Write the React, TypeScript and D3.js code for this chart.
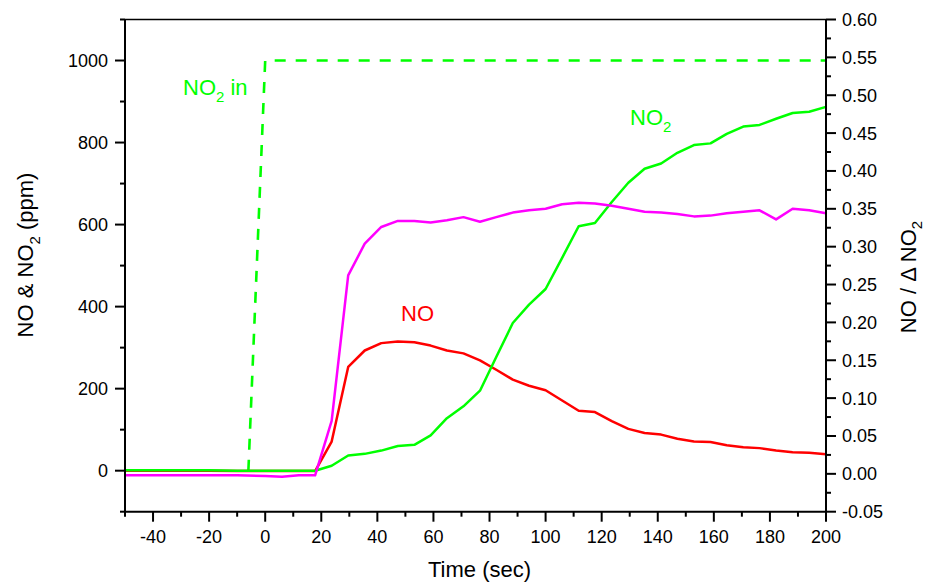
import React from "react";
import * as d3 from "d3";

// Sample times (s) shared by all measured series
const time = [
  -50, -40, -30, -20, -10, 0, 6, 12, 17.8, 23.7, 29.6, 35.5, 41.4, 47.3, 53.2, 59.0,
  64.8, 70.7, 76.6, 82.4, 88.3, 94.1, 100.0, 105.9, 111.8, 117.6, 123.6, 129.5, 135.3,
  141.2, 147.0, 152.9, 158.8, 164.6, 170.5, 176.3, 182.2, 188.1, 194.0, 200.0,
];

// NO2 outlet concentration (ppm)
const no2 = [
  1, 1, 1, 1, 0, 0, 0, 0, 0, 12, 37, 41, 49, 60, 63, 86,
  128, 157, 195, 277, 360, 405, 443, 519, 596, 604, 655, 702, 736,
  749, 775, 794, 798, 821, 839, 843, 858, 872, 875, 887,
];

// NO concentration (ppm)
const no = [
  0, 0, 0, 0, -1, -1, -1, -1, -1, 71, 253, 293, 311, 315, 313, 305,
  293, 286, 269, 246, 222, 207, 196, 171, 146, 143, 121, 102, 92,
  88, 78, 71, 70, 62, 57, 55, 49, 45, 44, 40,
];

// Ratio NO / ΔNO2 (right axis)
const ratio = [
  -0.002, -0.002, -0.002, -0.002, -0.002, -0.003, -0.004, -0.002, -0.002, 0.07, 0.262, 0.304,
  0.326, 0.334, 0.334, 0.332, 0.335, 0.339, 0.333, 0.339, 0.345, 0.348, 0.35, 0.356, 0.358,
  0.357, 0.354, 0.35, 0.346, 0.345, 0.343, 0.34, 0.341, 0.344, 0.346, 0.348, 0.336, 0.35,
  0.348, 0.344,
];

// NO2 feed step
const feedTime = [-6, 0, 200];
const feedNo2 = [0, 1000, 1000];

// Axis ticks
const xMajor = [-40, -20, 0, 20, 40, 60, 80, 100, 120, 140, 160, 180, 200];
const xMinor = [-50, -30, -10, 10, 30, 50, 70, 90, 110, 130, 150, 170, 190];
const yLeftMajor = [0, 200, 400, 600, 800, 1000];
const yLeftMinor = [-100, 100, 300, 500, 700, 900, 1100];
const yRightMajor = [-0.05, 0, 0.05, 0.1, 0.15, 0.2, 0.25, 0.3, 0.35, 0.4, 0.45, 0.5, 0.55, 0.6];
const yRightMinor = [-0.025, 0.025, 0.075, 0.125, 0.175, 0.225, 0.275, 0.325, 0.375, 0.425, 0.475, 0.525, 0.575];

const W = 925;
const H = 583;
const L = 125;
const R = 826;
const T = 19.5;
const B = 511.7;

const GREEN = "#00ff00";
const RED = "#ff0000";
const MAGENTA = "#ff00ff";
const FONT = "'Liberation Sans', Arial, Helvetica, sans-serif";

const fmtInt = (v: number) => (v < 0 ? "-" : "") + Math.abs(v).toString();
const fmt2 = (v: number) => (v < -1e-9 ? "-" : "") + Math.abs(v).toFixed(2);

export default function App() {
  const x = d3.scaleLinear().domain([-50, 200]).range([L, R]);
  const yL = d3.scaleLinear().domain([-100, 1100]).range([B, T]);
  const yR = d3.scaleLinear().domain([-0.05, 0.6]).range([B, T]);

  const lineL = (vals: number[], ts: number[]) =>
    d3
      .line<number>()
      .x((_, i) => x(ts[i]))
      .y((d) => yL(d))(vals) as string;
  const lineR = d3
    .line<number>()
    .x((_, i) => x(time[i]))
    .y((d) => yR(d))(ratio) as string;

  const tickStroke = { stroke: "#000", strokeWidth: 2 };

  return (
    <svg
      width={W}
      height={H}
      style={{ position: "absolute", left: 0, top: 0, background: "#fff" }}
      fontFamily={FONT}
    >
      <rect x={0} y={0} width={W} height={H} fill="#fff" />

      {/* series */}
      <path
        d={lineL(feedNo2, feedTime)}
        fill="none"
        stroke={GREEN}
        strokeWidth={2.6}
        strokeDasharray="11,10"
      />
      <path d={lineL(no, time)} fill="none" stroke={RED} strokeWidth={2.5} strokeLinejoin="round" />
      <path d={lineL(no2, time)} fill="none" stroke={GREEN} strokeWidth={2.5} strokeLinejoin="round" />
      <path d={lineR} fill="none" stroke={MAGENTA} strokeWidth={2.5} strokeLinejoin="round" />

      {/* frame */}
      <line x1={L} x2={R} y1={T} y2={T} stroke="#000" strokeWidth={1.6} />
      <line x1={L} x2={L} y1={T} y2={B} {...tickStroke} />
      <line x1={R} x2={R} y1={T} y2={B} {...tickStroke} />
      <line x1={L - 1} x2={R + 1} y1={B} y2={B} {...tickStroke} />

      {/* bottom axis */}
      {xMajor.map((t) => (
        <g key={"xM" + t}>
          <line x1={x(t)} x2={x(t)} y1={B} y2={B + 10} {...tickStroke} />
          <text x={x(t)} y={543} fontSize={18} textAnchor="middle" fill="#000">
            {fmtInt(t)}
          </text>
        </g>
      ))}
      {xMinor.map((t) => (
        <line key={"xm" + t} x1={x(t)} x2={x(t)} y1={B} y2={B + 5} {...tickStroke} />
      ))}

      {/* left axis */}
      {yLeftMajor.map((v) => (
        <g key={"lM" + v}>
          <line x1={L - 10} x2={L} y1={yL(v)} y2={yL(v)} {...tickStroke} />
          <text x={108} y={yL(v) + 6.5} fontSize={18} textAnchor="end" fill="#000">
            {fmtInt(v)}
          </text>
        </g>
      ))}
      {yLeftMinor.map((v) => (
        <line key={"lm" + v} x1={L - 5} x2={L} y1={yL(v)} y2={yL(v)} {...tickStroke} />
      ))}

      {/* right axis */}
      {yRightMajor.map((v) => (
        <g key={"rM" + v}>
          <line x1={R} x2={R + 10} y1={yR(v)} y2={yR(v)} {...tickStroke} />
          <text x={842} y={yR(v) + 6.5} fontSize={18} textAnchor="start" fill="#000">
            {fmt2(v)}
          </text>
        </g>
      ))}
      {yRightMinor.map((v) => (
        <line key={"rm" + v} x1={R} x2={R + 5} y1={yR(v)} y2={yR(v)} {...tickStroke} />
      ))}

      {/* axis titles */}
      <text x={(L + R) / 2 + 4} y={577} fontSize={22} textAnchor="middle" fill="#000">
        Time (sec)
      </text>
      <text transform="translate(33,255) rotate(-90)" fontSize={22} textAnchor="middle" fill="#000">
        NO &amp; NO
        <tspan fontSize={15} dy={7}>2</tspan>
        <tspan dy={-7}> (ppm)</tspan>
      </text>
      <text transform="translate(916,277) rotate(-90)" fontSize={22} textAnchor="middle" fill="#000">
        NO / Δ NO
        <tspan fontSize={15} dy={6}>2</tspan>
      </text>

      {/* series labels */}
      <text x={183} y={94.5} fontSize={22} fill={GREEN}>
        NO
        <tspan fontSize={15} dy={7}>2</tspan>
        <tspan dy={-7}> in</tspan>
      </text>
      <text x={401} y={320.5} fontSize={22} fill={RED}>
        NO
      </text>
      <text x={630} y={125} fontSize={22} fill={GREEN}>
        NO
        <tspan fontSize={15} dy={7}>2</tspan>
      </text>
    </svg>
  );
}
